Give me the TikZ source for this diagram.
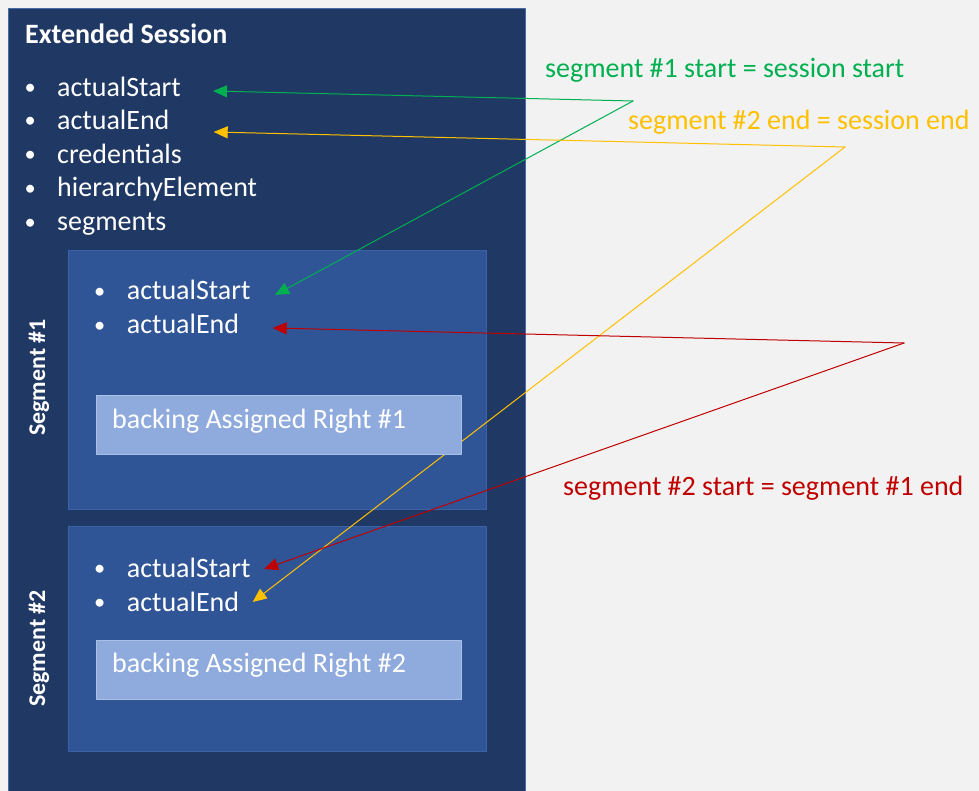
\documentclass[tikz,border=0pt]{standalone}
\usepackage{fontspec}
\setmainfont{Carlito}
\usetikzlibrary{arrows.meta,positioning}
\definecolor{pagebg}{HTML}{F2F2F2}
\definecolor{sessfill}{HTML}{203864}
\definecolor{sessedge}{HTML}{4A6AA5}
\definecolor{segfill}{HTML}{2F5597}
\definecolor{segedge}{HTML}{3B62A6}
\definecolor{rightfill}{HTML}{8FAADC}
\definecolor{rightedge}{HTML}{A9BFE6}
\definecolor{segGreen}{HTML}{00B050}
\definecolor{segYellow}{HTML}{FFC000}
\definecolor{segRed}{HTML}{C00000}
\newcommand\bigfont{\fontsize{28}{32}\selectfont}
\newcommand\bul{\llap{\raisebox{1.6pt}{\scalebox{0.8}{\textbullet}}\hspace{21.5pt}}}
\tikzset{
  sessbox/.style={rectangle,fill=sessfill,draw=sessedge,line width=1.2pt,anchor=north west,inner sep=0pt},
  segbox/.style={rectangle,fill=segfill,draw=segedge,line width=0.8pt,anchor=north west,inner sep=0pt,minimum width=418pt},
  rightbox/.style={rectangle,fill=rightfill,draw=rightedge,line width=0.8pt,anchor=north west,inner sep=0pt,minimum width=365pt,minimum height=59pt},
  item/.style={anchor=base west,inner sep=0pt,text=white,font=\bigfont},
  title/.style={anchor=base west,inner sep=0pt,text=white,font=\bigfont\bfseries},
  seglabel/.style={rotate=90,inner sep=0pt,text=white,font=\fontsize{24}{27}\selectfont\bfseries},
  note/.style={anchor=base west,inner sep=0pt,font=\bigfont},
  link/.style={line width=1pt,-{Triangle[length=14pt,width=12pt]}},
  every picture/.style={line cap=round,line join=round}
}
\begin{document}
\begin{tikzpicture}[x=1pt,y=-1pt]
  \clip (0,0) rectangle (979,791);
  \fill[pagebg] (0,0) rectangle (979,791);
  % extended session
  \node[sessbox,minimum width=517pt,minimum height=800pt] (sess) at (8,8) {};
  \node[title] (title) at (25,44) {Extended Session};
  \node[item] (sStart) at (57,96.5) {\bul actualStart};
  \node[item] (sEnd) at (57,129.5) {\bul actualEnd};
  \node[item] (sCred) at (57,163.3) {\bul credentials};
  \node[item] (sHier) at (57,197) {\bul hierarchyElement};
  \node[item] (sSegs) at (57,231) {\bul segments};
  % segments
  \node[segbox,minimum height=259pt] (seg1) at (68,250) {};
  \node[segbox,minimum height=225pt] (seg2) at (68,526) {};
  \node[seglabel] (seg1lbl) at (39,377.5) {Segment \#1};
  \node[seglabel] (seg2lbl) at (39,648.5) {Segment \#2};
  \node[item] (aStart) at (126.7,300) {\bul actualStart};
  \node[item] (aEnd) at (126.7,334) {\bul actualEnd};
  \node[item] (bStart) at (126.7,577) {\bul actualStart};
  \node[item] (bEnd) at (126.7,611) {\bul actualEnd};
  % links
  \coordinate (jG) at (633,101);
  \coordinate (jY) at (845,147);
  \coordinate (jR) at (904,343);
  \draw[link,segGreen] (jG) -- ([shift={(32,-5.5)}]sStart.base east);
  \draw[link,segGreen] (jG) -- ([shift={(24.3,-5)}]aStart.base east);
  \draw[link,segYellow] (jY) -- ([shift={(44,2.5)}]sEnd.base east);
  \draw[link,segYellow] (jY) -- ([shift={(13.3,-9)}]bEnd.base east);
  \draw[link,segRed] (jR) -- ([shift={(33.3,-6)}]aEnd.base east);
  \draw[link,segRed] (jR) -- ([shift={(13.3,-8)}]bStart.base east);
  % backing rights
  \node[rightbox] (right1) at (96,395) {};
  \node[item] (right1txt) at ([shift={(16,33)}]right1.north west) {backing Assigned Right \#1};
  \node[rightbox] (right2) at (96,639.5) {};
  \node[item] (right2txt) at ([shift={(16,32.5)}]right2.north west) {backing Assigned Right \#2};
  % notes
  \node[note,text=segGreen] (noteG) at (545,78) {segment \#1 start = session start};
  \node[note,text=segYellow] (noteY) at (628,130) {segment \#2 end = session end};
  \node[note,text=segRed] (noteR) at (563,495) {segment \#2 start = segment \#1 end};
\end{tikzpicture}
\end{document}
